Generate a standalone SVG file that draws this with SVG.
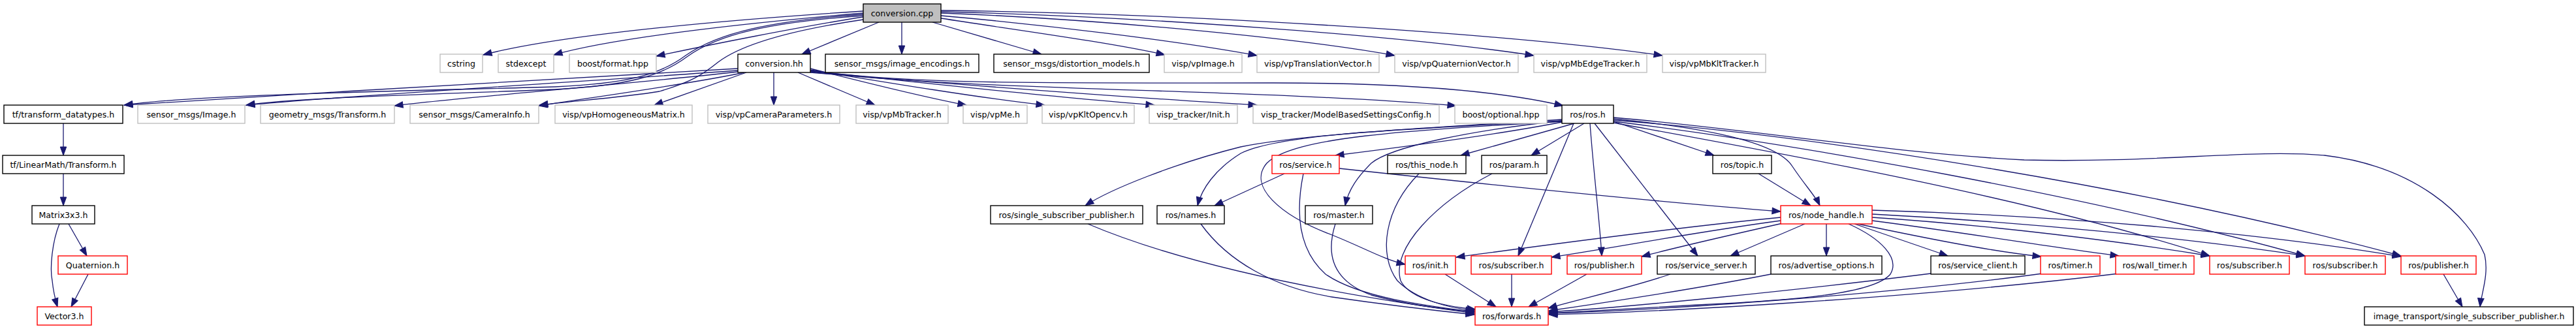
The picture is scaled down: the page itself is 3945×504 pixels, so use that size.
<svg xmlns="http://www.w3.org/2000/svg" width="3945" height="504" viewBox="0 0 3945 504">
<style>
.b{fill:#fff;stroke:#000;stroke-width:1.4}
.g{fill:#fff;stroke:#bfbfbf;stroke-width:1.4}
.r{fill:#fff;stroke:#ff0000;stroke-width:1.4}
.c{fill:#bfbfbf;stroke:#000;stroke-width:1.4}
text{font-family:"DejaVu Sans","Liberation Sans",sans-serif;font-size:12.6px;text-anchor:middle;fill:#000}
#edges path{fill:none;stroke:#191970;stroke-width:1.3;marker-end:url(#ah)}
</style>
<defs>
<marker id="ah" markerUnits="userSpaceOnUse" markerWidth="14" markerHeight="11" refX="13" refY="4.75" orient="auto" overflow="visible">
<path d="M0,0 L13,4.75 L0,9.5 Z" fill="#191970" stroke="#191970" stroke-width="1"/>
</marker>
</defs>
<rect width="3945" height="504" fill="#fff"/>
<g id="edges">
<path d="M1322,17 C1150,28 870,50 740,84"/>
<path d="M1322,20 C1180,32 950,55 848,84"/>
<path d="M1322,26 C1230,40 1080,70 1005,86"/>
<path d="M1346,34 L1228,83"/>
<path d="M1381,34 L1381,83"/>
<path d="M1428,34 L1595,83"/>
<path d="M1441,28 C1550,45 1700,65 1784,84"/>
<path d="M1441,24 C1600,38 1800,62 1925,85"/>
<path d="M1441,20 C1700,30 2000,60 2136,85"/>
<path d="M1441,18 C1750,25 2150,55 2349,85"/>
<path d="M1441,16 C1800,20 2300,50 2546,85"/>
<path d="M1322,22 C1180,32 1100,50 1050,85 C1010,115 960,128 850,133 C600,140 300,145 190,161"/>
<path d="M1322,24 C1180,34 1100,52 1052,87 C1012,117 960,131 850,137 C650,145 450,150 377,161"/>
<path d="M1322,30 C1220,45 1140,65 1100,95 C1075,115 1060,125 1010,140 C950,150 870,155 826,161"/>
<path d="M1130,105 C900,120 500,140 190,161"/>
<path d="M1130,108 C900,125 550,145 377,161"/>
<path d="M1130,110 C950,130 700,150 604,162"/>
<path d="M1140,111 C1050,130 900,150 825,162"/>
<path d="M1143,111 L1002,161"/>
<path d="M1185,111 L1185,161"/>
<path d="M1222,111 L1340,161"/>
<path d="M1241,105 C1300,120 1420,150 1480,161"/>
<path d="M1241,107 C1350,125 1500,150 1600,161"/>
<path d="M1241,109 C1400,125 1600,148 1768,161"/>
<path d="M1241,111 C1450,128 1700,148 1925,161"/>
<path d="M1241,110 C1500,140 1900,135 2230,162"/>
<path d="M1241,108 C1400,130 1600,127 1950,127 C2150,127 2300,140 2394,162"/>
<path d="M97,189 L97,238"/>
<path d="M97,266 L97,315"/>
<path d="M105,343 L133,392"/>
<path d="M91,343 C80,370 76,410 80,430 C82,450 85,460 88,470"/>
<path d="M135,420 L109,470"/>
<path d="M2392,187 C2300,205 2150,225 2045,238"/>
<path d="M2411,189 L2237,238"/>
<path d="M2426,189 L2345,238"/>
<path d="M2471,186 L2625,238"/>
<path d="M2471,182 C2600,195 2720,215 2745,255 C2765,285 2780,300 2787,315"/>
<path d="M2392,185 C2250,200 2130,225 2100,250 C2080,270 2065,290 2060,315"/>
<path d="M2392,183 C2200,195 2000,205 1900,225 C1800,250 1700,290 1662,315"/>
<path d="M2392,185 C2150,198 1960,205 1900,235 C1860,260 1840,290 1834,315"/>
<path d="M2392,186 C2150,200 1980,210 1940,250 C1910,285 1960,330 2040,360 C2090,380 2120,398 2152,405"/>
<path d="M2410,189 L2325,392"/>
<path d="M2435,189 C2440,260 2450,340 2453,392"/>
<path d="M2442,189 L2600,392"/>
<path d="M2471,188 C2700,230 3100,300 3384,392"/>
<path d="M2471,186 C2750,220 3200,300 3530,392"/>
<path d="M2471,184 C2800,210 3300,290 3677,392"/>
<path d="M2471,180 C2700,200 2900,235 3100,245 C3300,250 3450,228 3560,238 C3700,255 3780,330 3805,390 C3812,420 3800,450 3798,470"/>
<path d="M2727,333 C2550,350 2350,378 2230,394"/>
<path d="M2727,338 C2600,355 2480,378 2376,394"/>
<path d="M2730,342 C2650,360 2570,378 2514,393"/>
<path d="M2764,343 L2650,392"/>
<path d="M2797,343 L2797,392"/>
<path d="M2831,343 C2880,365 2910,395 2895,420 C2870,450 2750,460 2600,467 C2500,472 2420,477 2372,480"/>
<path d="M2840,343 L2983,392"/>
<path d="M2845,343 C2950,365 3050,385 3126,393"/>
<path d="M2867,338 C3000,355 3150,380 3245,392"/>
<path d="M2867,333 C3050,345 3250,370 3384,392"/>
<path d="M2867,328 C3100,340 3350,365 3530,392"/>
<path d="M2867,322 C3150,330 3450,355 3677,393"/>
<path d="M2693,266 L2773,315"/>
<path d="M2051,258 C2300,285 2550,310 2727,324"/>
<path d="M1967,266 L1860,315"/>
<path d="M1996,266 C1985,320 1985,380 2030,420 C2080,455 2180,468 2258,478"/>
<path d="M1666,343 C1800,400 2000,445 2258,480"/>
<path d="M1839,343 C1880,400 1950,440 2040,455 C2130,468 2200,476 2258,482"/>
<path d="M2045,343 C2030,390 2040,430 2100,452 C2160,468 2210,474 2258,477"/>
<path d="M2173,266 C2120,320 2110,390 2140,430 C2170,460 2220,472 2258,476"/>
<path d="M2285,266 C2200,310 2130,380 2145,430 C2160,460 2220,470 2260,474"/>
<path d="M2213,420 L2291,470"/>
<path d="M2315,420 L2315,470"/>
<path d="M2430,420 L2341,470"/>
<path d="M2558,420 C2500,440 2420,458 2371,472"/>
<path d="M2712,420 C2600,442 2450,465 2372,476"/>
<path d="M2957,419 C2750,445 2500,470 2372,478"/>
<path d="M3128,419 C2900,450 2550,475 2372,480"/>
<path d="M3245,419 C2950,455 2550,478 2372,482"/>
<path d="M3742,420 L3771,470"/>
</g>
<g id="n_cpp"><rect class="c" x="1322" y="6" width="119" height="28"/><text x="1381.5" y="24.5">conversion.cpp</text></g>
<g id="n_cstring"><rect class="g" x="674" y="83" width="65" height="28"/><text x="706.5" y="101.5">cstring</text></g>
<g id="n_stdexcept"><rect class="g" x="763" y="83" width="85" height="28"/><text x="805.5" y="101.5">stdexcept</text></g>
<g id="n_bformat"><rect class="g" x="872" y="83" width="133" height="28"/><text x="938.5" y="101.5">boost/format.hpp</text></g>
<g id="n_hh"><rect class="b" x="1130" y="83" width="111" height="28"/><text x="1185.5" y="101.5">conversion.hh</text></g>
<g id="n_imgenc"><rect class="b" x="1264" y="83" width="235" height="28"/><text x="1381.5" y="101.5">sensor_msgs/image_encodings.h</text></g>
<g id="n_distort"><rect class="b" x="1522" y="83" width="238" height="28"/><text x="1641" y="101.5">sensor_msgs/distortion_models.h</text></g>
<g id="n_vpImage"><rect class="g" x="1783" y="83" width="119" height="28"/><text x="1842.5" y="101.5">visp/vpImage.h</text></g>
<g id="n_vpTrans"><rect class="g" x="1925" y="83" width="187" height="28"/><text x="2018.5" y="101.5">visp/vpTranslationVector.h</text></g>
<g id="n_vpQuat"><rect class="g" x="2136" y="83" width="189" height="28"/><text x="2230.5" y="101.5">visp/vpQuaternionVector.h</text></g>
<g id="n_vpEdge"><rect class="g" x="2349" y="83" width="173" height="28"/><text x="2435.5" y="101.5">visp/vpMbEdgeTracker.h</text></g>
<g id="n_vpKlt"><rect class="g" x="2546" y="83" width="158" height="28"/><text x="2625" y="101.5">visp/vpMbKltTracker.h</text></g>
<g id="n_tfdt"><rect class="b" x="6" y="161" width="182" height="28"/><text x="97" y="179.5">tf/transform_datatypes.h</text></g>
<g id="n_imgh"><rect class="g" x="211" y="161" width="164" height="28"/><text x="293" y="179.5">sensor_msgs/Image.h</text></g>
<g id="n_geoT"><rect class="g" x="399" y="161" width="205" height="28"/><text x="501.5" y="179.5">geometry_msgs/Transform.h</text></g>
<g id="n_caminfo"><rect class="g" x="628" y="161" width="197" height="28"/><text x="726.5" y="179.5">sensor_msgs/CameraInfo.h</text></g>
<g id="n_homog"><rect class="g" x="850" y="161" width="210" height="28"/><text x="955" y="179.5">visp/vpHomogeneousMatrix.h</text></g>
<g id="n_campar"><rect class="g" x="1084" y="161" width="202" height="28"/><text x="1185" y="179.5">visp/vpCameraParameters.h</text></g>
<g id="n_mbtr"><rect class="g" x="1311" y="161" width="141" height="28"/><text x="1381.5" y="179.5">visp/vpMbTracker.h</text></g>
<g id="n_vpme"><rect class="g" x="1475" y="161" width="98" height="28"/><text x="1524" y="179.5">visp/vpMe.h</text></g>
<g id="n_klt"><rect class="g" x="1596" y="161" width="141" height="28"/><text x="1666.5" y="179.5">visp/vpKltOpencv.h</text></g>
<g id="n_vtinit"><rect class="g" x="1760" y="161" width="135" height="28"/><text x="1827.5" y="179.5">visp_tracker/Init.h</text></g>
<g id="n_mbs"><rect class="g" x="1919" y="161" width="285" height="28"/><text x="2061.5" y="179.5">visp_tracker/ModelBasedSettingsConfig.h</text></g>
<g id="n_bopt"><rect class="g" x="2228" y="161" width="141" height="28"/><text x="2298.5" y="179.5">boost/optional.hpp</text></g>
<g id="n_ros"><rect class="b" x="2392" y="161" width="79" height="28"/><text x="2431.5" y="179.5">ros/ros.h</text></g>
<g id="n_lmT"><rect class="b" x="4" y="238" width="186" height="28"/><text x="97" y="256.5">tf/LinearMath/Transform.h</text></g>
<g id="n_service"><rect class="r" x="1948" y="238" width="103" height="28"/><text x="1999.5" y="256.5">ros/service.h</text></g>
<g id="n_thisnode"><rect class="b" x="2125" y="238" width="120" height="28"/><text x="2185" y="256.5">ros/this_node.h</text></g>
<g id="n_param"><rect class="b" x="2269" y="238" width="100" height="28"/><text x="2319" y="256.5">ros/param.h</text></g>
<g id="n_topic"><rect class="b" x="2623" y="238" width="90" height="28"/><text x="2668" y="256.5">ros/topic.h</text></g>
<g id="n_m3"><rect class="b" x="49" y="315" width="96" height="28"/><text x="97" y="333.5">Matrix3x3.h</text></g>
<g id="n_ssp"><rect class="b" x="1517" y="315" width="233" height="28"/><text x="1633.5" y="333.5">ros/single_subscriber_publisher.h</text></g>
<g id="n_names"><rect class="b" x="1772" y="315" width="103" height="28"/><text x="1823.5" y="333.5">ros/names.h</text></g>
<g id="n_master"><rect class="b" x="1999" y="315" width="103" height="28"/><text x="2050.5" y="333.5">ros/master.h</text></g>
<g id="n_nh"><rect class="r" x="2727" y="315" width="140" height="28"/><text x="2797" y="333.5">ros/node_handle.h</text></g>
<g id="n_quat"><rect class="r" x="89" y="392" width="106" height="28"/><text x="142" y="410.5">Quaternion.h</text></g>
<g id="n_init"><rect class="r" x="2152" y="392" width="77" height="28"/><text x="2190.5" y="410.5">ros/init.h</text></g>
<g id="n_sub1"><rect class="r" x="2253" y="392" width="123" height="28"/><text x="2314.5" y="410.5">ros/subscriber.h</text></g>
<g id="n_pub1"><rect class="r" x="2400" y="392" width="114" height="28"/><text x="2457" y="410.5">ros/publisher.h</text></g>
<g id="n_ssrv"><rect class="b" x="2538" y="392" width="150" height="28"/><text x="2613" y="410.5">ros/service_server.h</text></g>
<g id="n_advopt"><rect class="b" x="2712" y="392" width="170" height="28"/><text x="2797" y="410.5">ros/advertise_options.h</text></g>
<g id="n_sclient"><rect class="b" x="2957" y="392" width="144" height="28"/><text x="3029" y="410.5">ros/service_client.h</text></g>
<g id="n_timer"><rect class="r" x="3125" y="392" width="91" height="28"/><text x="3170.5" y="410.5">ros/timer.h</text></g>
<g id="n_wtimer"><rect class="r" x="3240" y="392" width="120" height="28"/><text x="3300" y="410.5">ros/wall_timer.h</text></g>
<g id="n_sub2"><rect class="r" x="3384" y="392" width="122" height="28"/><text x="3445" y="410.5">ros/subscriber.h</text></g>
<g id="n_sub3"><rect class="r" x="3530" y="392" width="123" height="28"/><text x="3591.5" y="410.5">ros/subscriber.h</text></g>
<g id="n_pub2"><rect class="r" x="3677" y="392" width="115" height="28"/><text x="3734.5" y="410.5">ros/publisher.h</text></g>
<g id="n_v3"><rect class="r" x="57" y="470" width="83" height="28"/><text x="98.5" y="488.5">Vector3.h</text></g>
<g id="n_fwd"><rect class="r" x="2259" y="470" width="112" height="28"/><text x="2315" y="488.5">ros/forwards.h</text></g>
<g id="n_itssp"><rect class="b" x="3621" y="470" width="320" height="28"/><text x="3781" y="488.5">image_transport/single_subscriber_publisher.h</text></g>
</svg>
